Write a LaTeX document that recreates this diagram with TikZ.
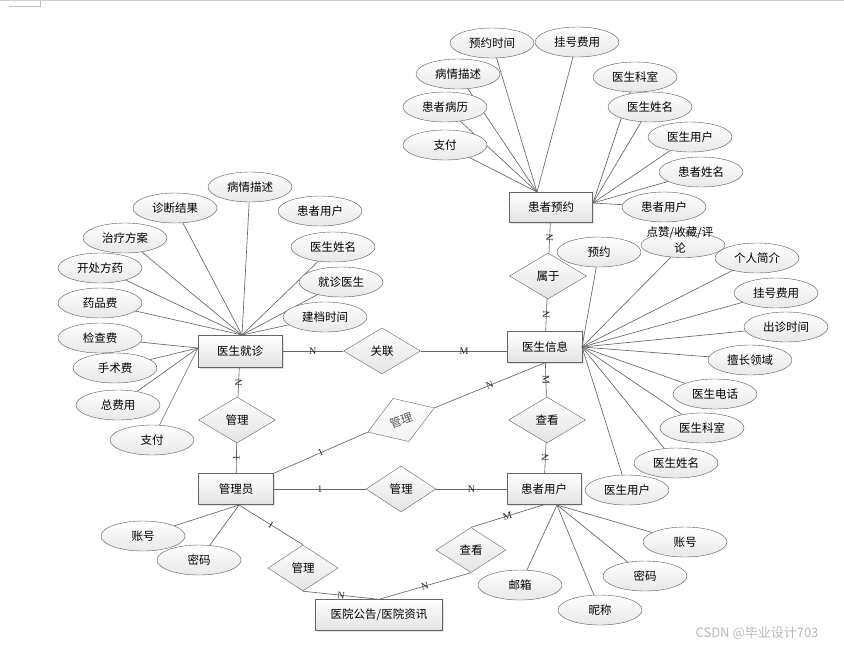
\documentclass[tikz,border=0pt]{standalone}
\usepackage{fontspec}
\setmainfont{Noto Sans CJK SC}
\newfontfamily\cardfont{Liberation Serif}
\usetikzlibrary{shapes.geometric,shadows}

\begin{document}
\begin{tikzpicture}[x=1pt,y=-1pt,
  txt/.style={font=\fontsize{11.5}{13}\selectfont},
  entity/.style={txt,draw=gray!80!black,top color=white,bottom color=gray!22,
    minimum width=75pt,minimum height=31pt,inner sep=1pt,
    drop shadow={shadow xshift=1.5pt,shadow yshift=-1.5pt,fill=gray!45}},
  rel/.style={txt,diamond,draw=gray!80!black,top color=white,bottom color=gray!22,
    minimum width=77pt,minimum height=46pt,inner sep=0pt},
  attr/.style={txt,ellipse,draw=gray!70!black,top color=white,bottom color=gray!18,
    minimum width=84pt,minimum height=30pt,inner sep=1pt},
  link/.style={draw=gray!80!black,line width=0.65pt},
  card/.style={font=\cardfont\fontsize{10}{10}\selectfont,text=black!85,sloped,inner sep=0pt,midway}
]
  \useasboundingbox (0,0) rectangle (844,649);
  \draw[gray!35,line width=1pt] (0,0.5) -- (844,0.5);
  \draw[gray!50] (9,6) -- (40,6) -- (40,0);

  \node[entity,minimum width=83pt,minimum height=30pt] (yy) at (551,207) {患者预约};
  \node[entity,minimum width=84pt,minimum height=32pt] (jz) at (240,351) {医生就诊};
  \node[entity] (xx) at (545,347) {医生信息};
  \node[entity,minimum width=74pt] (hz) at (544,489) {患者用户};
  \node[entity] (gly) at (236,489) {管理员};
  \node[entity,minimum width=127pt] (gg) at (379,615) {医院公告/医院资讯};

  \node[rel] (sy) at (548,276) {属于};
  \node[rel] (ck1) at (547,420) {查看};
  \node[rel] (gl) at (382,351) {关联};
  \node[rel] (gl1) at (237,420) {管理};
  \node[rel,minimum width=71pt,rotate=20,bottom color=gray!10,text=gray!70!black] (gl2) at (401,420) {管理};
  \node[rel,minimum width=70pt] (gl3) at (401,489) {管理};
  \node[rel,minimum width=70pt] (gl4) at (303,568) {管理};
  \node[rel,minimum width=70pt,minimum height=45pt] (ck2) at (471,550) {查看};

  \coordinate (yy-a) at (537,192);
  \coordinate (yy-b) at (593,203);
  \coordinate (jz-a) at (242,335);
  \coordinate (jz-b) at (198,348);
  \coordinate (xx-a) at (582,347);
  \coordinate (hz-a) at (557,505);
  \coordinate (gly-a) at (239,505);

  \foreach \n/\x/\y/\t in {yy1/492/43/预约时间,yy2/577/42/挂号费用,yy3/458/74/病情描述,
      yy4/445/107/患者病历,yy5/445/145/支付}{
    \node[attr] (\n) at (\x,\y) {\t};
    \draw[link] (yy-a) -- (\n);
  }
  \foreach \n/\x/\y/\t in {yy6/635/77/医生科室,yy7/650/107/医生姓名,yy8/690/137/医生用户,
      yy9/701/172/患者姓名,yy10/664/207/患者用户}{
    \node[attr] (\n) at (\x,\y) {\t};
    \draw[link] (yy-b) -- (\n);
  }

  \foreach \n/\x/\y/\t in {jz1/250/187/病情描述,jz2/175/208/诊断结果,jz3/125/238/治疗方案,
      jz4/100/268/开处方药,jz5/100/303/药品费,jz6/333/247/医生姓名,jz7/341/282/就诊医生,
      jz8/325/317/建档时间}{
    \node[attr] (\n) at (\x,\y) {\t};
    \draw[link] (jz-a) -- (\n);
  }
  \foreach \n/\x/\y/\t in {jz9/100/338/检查费,jz10/115/368/手术费,jz11/118/405/总费用,
      jz12/152/440/支付}{
    \node[attr] (\n) at (\x,\y) {\t};
    \draw[link] (jz-b) -- (\n);
  }
  \node[attr] (jz13) at (320,211) {患者用户};

  \node[attr,minimum height=25pt] (xx2) at (683,245) {};
  \node[font=\fontsize{11.5}{16}\selectfont,align=center,inner sep=0pt] (xx2t) at (680,240) {点赞/收藏/评\\论};
  \draw[link] (xx-a) -- (xx2);
  \foreach \n/\x/\y/\t in {xx1/599/252/预约,xx3/757/258/个人简介,xx4/776/293/挂号费用,
      xx5/786/327/出诊时间,xx6/750/360/擅长领域,xx7/715/394/医生电话,xx8/702/428/医生科室,
      xx9/676/463/医生姓名,xx10/627/490/医生用户}{
    \node[attr] (\n) at (\x,\y) {\t};
    \draw[link] (xx-a) -- (\n);
  }

  \foreach \n/\x/\y/\t in {hz1/520/585/邮箱,hz2/600/610/昵称,hz3/645/576/密码,hz4/685/542/账号}{
    \node[attr] (\n) at (\x,\y) {\t};
    \draw[link] (hz-a) -- (\n);
  }
  \foreach \n/\x/\y/\t in {gl5/143/536/账号,gl6/199/560/密码}{
    \node[attr] (\n) at (\x,\y) {\t};
    \draw[link] (gly-a) -- (\n);
  }

  \draw[link] (yy) -- node[card] {N} (sy);
  \draw[link] (sy) -- node[card] {N} (xx);
  \draw[link] (jz) -- node[card] {N} (gl);
  \draw[link] (gl) -- node[card] {M} (gl.east -| xx.west);
  \draw[link] (jz) -- node[card] {N} (gl1);
  \draw[link] (gl1) -- node[card] {1} (gly);
  \draw[link] (gly.north east) -- node[card] {1} (gl2.west);
  \draw[link] (gl2.east) -- node[card] {N} (xx.south);
  \draw[link] (xx) -- node[card] {M} (ck1);
  \draw[link] (ck1) -- node[card] {N} (hz);
  \draw[link] (gly) -- node[card] {1} (gl3);
  \draw[link] (gl3) -- node[card] {N} (hz);
  \draw[link] (gly-a) -- node[card] {1} (gl4.north);
  \draw[link] (gl4.south) -- node[card] {N} (gg.north);
  \draw[link] (hz.south) -- node[card] {M} (ck2.north);
  \draw[link] (ck2.south) -- node[card] {N} (gg.north);

  \node[font=\fontsize{13}{15}\selectfont,text=gray!55] (wm) at (757,633) {CSDN @毕业设计703};
\end{tikzpicture}
\end{document}
